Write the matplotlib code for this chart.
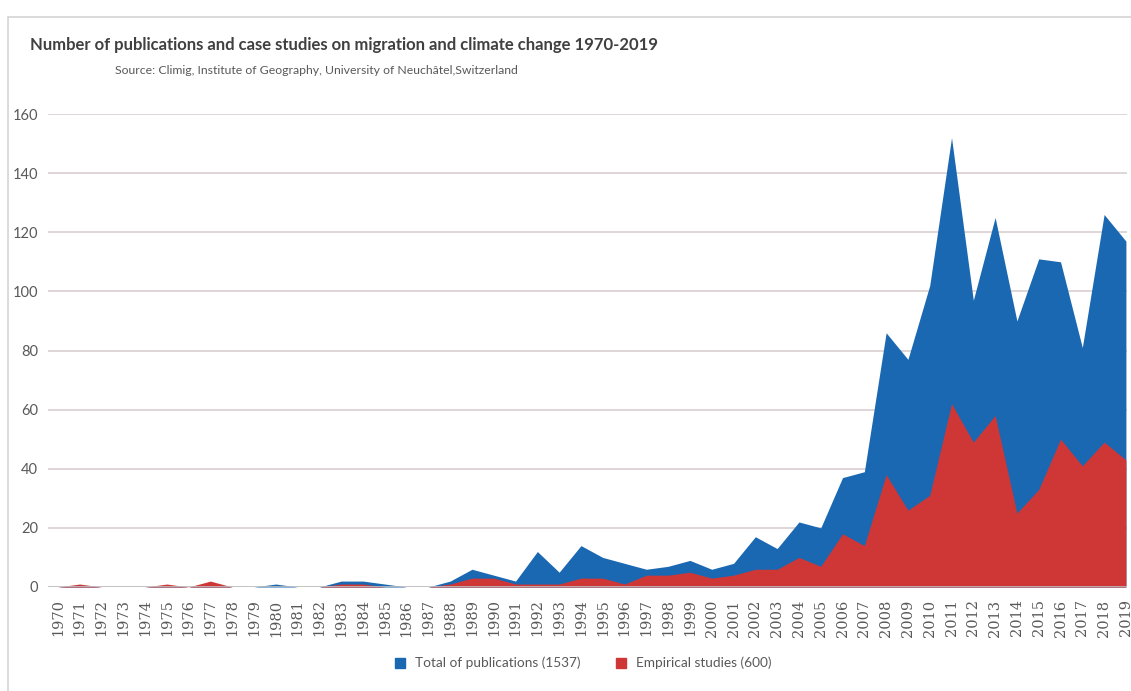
import numpy as np
import matplotlib.pyplot as plt
from matplotlib.patches import Rectangle

years = list( range( 1970, 2020 ) )
total = [ 0, 0.5, 0, 0, 0, 0.5, 0, 1, 0, 0,
          1, 0, 0, 2, 2, 1, 0, 0, 2, 6,
          4, 2, 12, 5, 14, 10, 8, 6, 7, 9,
          6, 8, 17, 13, 22, 20, 37, 39, 86, 77,
          102, 152, 97, 125, 90, 111, 110, 81, 126, 117 ]
empirical = [ 0, 1, 0, 0, 0, 1, 0, 2, 0, 0,
              0, 0, 0, 1, 1, 0, 0, 0, 1, 3,
              3, 1, 1, 1, 3, 3, 1, 4, 4, 5,
              3, 4, 6, 6, 10, 7, 18, 14, 38, 26,
              31, 62, 49, 58, 25, 33, 50, 41, 49, 43 ]
yticks = [ 0, 20, 40, 60, 80, 100, 120, 140, 160 ]

blue = '#1a67b2'
red  = '#cf3737'
txt  = '#595959'
fam  = [ 'Lato', 'DejaVu Sans' ]

fig = plt.figure( figsize = ( 11.31, 6.91 ), dpi = 100 )
fig.patches.append( Rectangle( ( 8 / 1131, -0.01 ), 1.0, 1 - 17 / 691 + 0.01,
                               transform = fig.transFigure, fill = False,
                               edgecolor = '#d4d4d4', linewidth = 1.2 ) )

ax = fig.add_axes( [ 48 / 1131, 1 - 587 / 691, ( 1127 - 48 ) / 1131, ( 587 - 114 ) / 691 ] )
ax.fill_between( years, total, color = blue, linewidth = 0, zorder = 2 )
ax.fill_between( years, empirical, color = red, linewidth = 0, zorder = 3 )

ax.set_xlim( 1969.55, 2019.05 )
ax.set_ylim( 0, 160 )
ax.set_yticks( yticks )
ax.set_yticklabels( [ str( v ) for v in yticks ], fontsize = 10.5, color = txt, family = fam )
ax.set_xticks( years )
ax.set_xticklabels( [ str( y ) for y in years ], rotation = 90, fontsize = 10.5,
                    color = txt, family = 'DejaVu Serif' )
ax.tick_params( axis = 'y', length = 0, pad = 7 )
ax.tick_params( axis = 'x', length = 0, pad = 9 )
ax.grid( axis = 'y', color = '#d9cfcf', linewidth = 1.2, zorder = 0 )
ax.set_axisbelow( True )
for s in ax.spines.values() :
    s.set_visible( False )
ax.axhline( 0, color = '#bfbfbf', linewidth = 1.2, zorder = 4 )

fig.text( 30 / 1131, 1 - 45 / 691, 'Number of publications and case studies on migration and climate change 1970-2019',
          fontsize = 12, fontweight = 'bold', color = '#404040', family = fam, va = 'center' )
fig.text( 115 / 1131, 1 - 70 / 691, 'Source: Climig, Institute of Geography, University of Neuchâtel,Switzerland',
          fontsize = 8.8, color = txt, family = fam, va = 'center' )

h1 = plt.Line2D( [], [], marker = 's', color = blue, linestyle = '', markersize = 7 )
h2 = plt.Line2D( [], [], marker = 's', color = red, linestyle = '', markersize = 7 )
fig.legend( [ h1, h2 ], [ 'Total of publications (1537)', 'Empirical studies (600)' ],
            loc = 'center', bbox_to_anchor = ( 579 / 1131, 1 - 663 / 691 ), ncol = 2,
            frameon = False, handletextpad = 0.1, columnspacing = 2.0,
            prop = { 'family' : fam, 'size' : 9.8 }, labelcolor = txt )

fig.savefig( 'out.png', dpi = 100 )
